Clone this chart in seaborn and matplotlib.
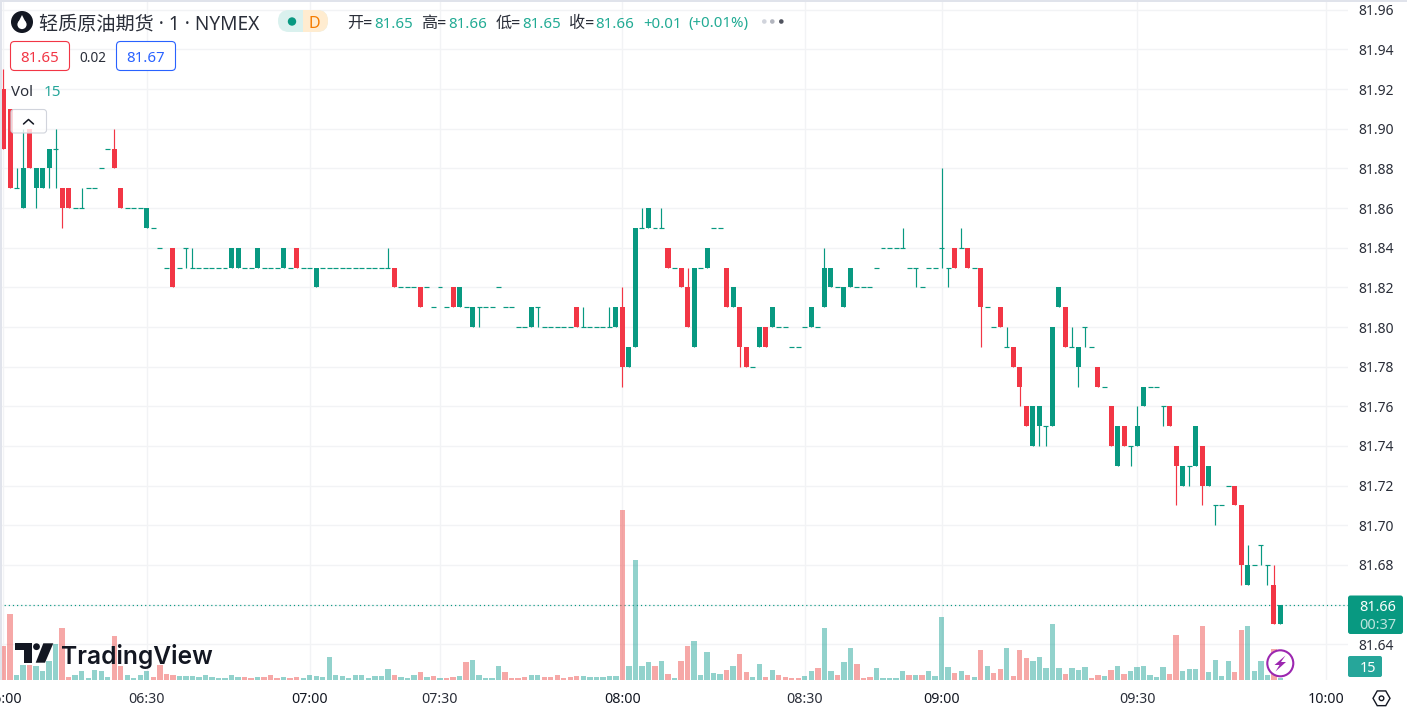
import numpy as np
import pandas as pd
import matplotlib.pyplot as plt
import seaborn as sns
from matplotlib.patches import Circle, FancyBboxPatch, Polygon, Rectangle, RegularPolygon

# Datos: precios en centavos por encima de 81.00, una fila cada 10 velas
opens = [92, 91, 87, 86, 90, 87, 87, 88, 89, 87,
         87, 86, 86, 87, 87, 88, 89, 89, 87, 86,
         86, 86, 85, 85, 84, 83, 84, 83, 84, 83,
         83, 83, 83, 83, 83, 83, 83, 83, 83, 83,
         83, 83, 83, 83, 83, 84, 83, 83, 82, 83,
         83, 83, 83, 83, 83, 83, 83, 83, 83, 83,
         83, 82, 82, 82, 82, 82, 81, 82, 81, 82,
         81, 81, 80, 81, 81, 81, 82, 81, 81, 80,
         80, 80, 81, 80, 80, 80, 80, 80, 81, 80,
         80, 80, 80, 80, 80, 81, 78, 79, 85, 85,
         85, 85, 84, 83, 83, 82, 79, 83, 83, 85,
         85, 83, 81, 81, 79, 78, 79, 80, 80, 80,
         80, 79, 79, 80, 80, 80, 81, 82, 82, 81,
         82, 82, 82, 82, 83, 84, 84, 84, 84, 83,
         83, 82, 83, 83, 84, 83, 84, 84, 84, 83,
         83, 81, 80, 81, 79, 79, 78, 76, 74, 75,
         75, 75, 81, 81, 79, 78, 80, 79, 78, 77,
         76, 73, 75, 74, 74, 76, 77, 77, 76, 76,
         74, 72, 73, 73, 74, 72, 71, 71, 72, 72,
         71, 67, 68, 69, 68, 67, 65]
highs = [93, 91, 88, 90, 90, 88, 88, 89, 90, 87,
         87, 86, 87, 87, 87, 88, 89, 90, 87, 86,
         86, 86, 86, 85, 84, 83, 84, 83, 84, 84,
         83, 83, 83, 83, 83, 84, 84, 83, 83, 84,
         83, 83, 83, 84, 83, 84, 83, 83, 83, 83,
         83, 83, 83, 83, 83, 83, 83, 83, 83, 84,
         83, 82, 82, 82, 82, 82, 81, 82, 81, 82,
         82, 81, 81, 81, 81, 81, 82, 81, 81, 80,
         80, 81, 81, 80, 80, 80, 80, 80, 81, 81,
         80, 80, 80, 81, 81, 82, 79, 85, 86, 86,
         85, 86, 84, 83, 83, 83, 83, 83, 84, 85,
         85, 83, 82, 81, 79, 78, 80, 80, 81, 80,
         80, 79, 79, 80, 81, 80, 84, 83, 82, 82,
         83, 82, 82, 82, 83, 84, 84, 84, 85, 83,
         83, 82, 83, 83, 88, 83, 84, 85, 84, 83,
         83, 81, 80, 81, 80, 79, 78, 76, 76, 76,
         75, 80, 82, 81, 80, 79, 80, 79, 78, 77,
         76, 75, 75, 74, 76, 77, 77, 77, 76, 76,
         74, 73, 73, 75, 74, 73, 71, 71, 72, 72,
         71, 69, 68, 69, 68, 68, 66]
lows = [89, 87, 87, 86, 88, 86, 87, 87, 87, 85,
        86, 86, 86, 87, 87, 88, 89, 88, 86, 86,
        86, 86, 85, 85, 84, 83, 82, 83, 83, 83,
        83, 83, 83, 83, 83, 83, 83, 83, 83, 83,
        83, 83, 83, 83, 83, 83, 83, 83, 82, 83,
        83, 83, 83, 83, 83, 83, 83, 83, 83, 83,
        82, 82, 82, 82, 81, 82, 81, 82, 81, 81,
        81, 81, 80, 80, 81, 81, 82, 81, 81, 80,
        80, 80, 80, 80, 80, 80, 80, 80, 80, 80,
        80, 80, 80, 80, 80, 77, 78, 79, 85, 85,
        85, 85, 83, 83, 82, 80, 79, 83, 83, 85,
        85, 81, 81, 78, 78, 78, 79, 79, 80, 80,
        80, 79, 79, 80, 80, 80, 81, 82, 82, 81,
        82, 82, 82, 82, 83, 84, 84, 84, 84, 83,
        82, 82, 83, 83, 83, 82, 83, 84, 83, 83,
        79, 81, 80, 80, 79, 78, 76, 75, 74, 74,
        74, 75, 81, 79, 79, 77, 79, 79, 77, 77,
        74, 73, 74, 73, 74, 76, 77, 77, 75, 75,
        71, 72, 72, 73, 71, 72, 70, 71, 72, 71,
        67, 67, 68, 68, 67, 65, 65]
closes = [89, 87, 87, 88, 88, 88, 88, 89, 89, 86,
          86, 86, 86, 87, 87, 88, 89, 88, 86, 86,
          86, 86, 86, 85, 84, 83, 82, 83, 84, 83,
          83, 83, 83, 83, 83, 84, 84, 83, 83, 84,
          83, 83, 83, 84, 83, 83, 83, 83, 83, 83,
          83, 83, 83, 83, 83, 83, 83, 83, 83, 83,
          82, 82, 82, 82, 81, 82, 81, 82, 81, 81,
          82, 81, 81, 81, 81, 81, 82, 81, 81, 80,
          80, 81, 81, 80, 80, 80, 80, 80, 80, 80,
          80, 80, 80, 80, 81, 78, 79, 85, 85, 86,
          85, 85, 83, 83, 82, 80, 83, 83, 84, 85,
          85, 81, 82, 79, 78, 78, 80, 79, 81, 80,
          80, 79, 79, 80, 81, 80, 83, 83, 82, 82,
          83, 82, 82, 82, 83, 84, 84, 84, 84, 83,
          83, 82, 83, 83, 84, 83, 83, 84, 83, 83,
          81, 81, 80, 80, 79, 78, 77, 75, 76, 76,
          75, 80, 82, 79, 79, 79, 80, 79, 77, 77,
          74, 75, 74, 74, 75, 77, 77, 77, 76, 75,
          73, 73, 73, 75, 72, 73, 71, 71, 72, 71,
          68, 68, 68, 69, 68, 65, 66]
volumes = [204, 396, 30, 90, 90, 84, 54, 114, 216, 312,
           18, 30, 54, 12, 60, 54, 18, 264, 84, 30,
           12, 30, 54, 18, 90, 36, 30, 24, 24, 24,
           18, 30, 18, 12, 12, 30, 18, 18, 12, 18,
           18, 30, 12, 18, 12, 18, 12, 30, 24, 18,
           138, 30, 24, 12, 30, 30, 12, 24, 24, 66,
           30, 18, 12, 30, 48, 18, 24, 12, 12, 18,
           24, 108, 120, 30, 12, 12, 84, 48, 12, 12,
           18, 30, 30, 18, 18, 30, 12, 18, 24, 24,
           18, 18, 18, 24, 24, 1020, 84, 720, 84, 108,
           84, 114, 36, 12, 114, 204, 234, 30, 168, 42,
           36, 60, 84, 156, 48, 18, 96, 18, 60, 30,
           18, 12, 12, 24, 54, 72, 312, 54, 30, 108,
           192, 96, 12, 18, 72, 12, 12, 12, 54, 30,
           30, 30, 54, 24, 378, 78, 42, 54, 30, 18,
           180, 84, 42, 66, 192, 24, 180, 132, 114, 138,
           72, 336, 72, 36, 72, 60, 78, 12, 30, 24,
           60, 84, 36, 54, 78, 84, 30, 18, 78, 36,
           270, 54, 66, 66, 324, 48, 120, 24, 114, 48,
           300, 324, 54, 114, 30, 186, 15]
# Velas cuyo volumen sale en rojo
vol_rojas = [0, 1, 4, 9, 10, 17, 18, 23, 24, 25, 26, 37, 38, 40, 41, 42, 44, 45,
             60, 64, 66, 68, 69, 71, 77, 78, 79, 80, 83, 84, 85, 86, 87, 88, 95,
             100, 102, 104, 105, 111, 113, 114, 117, 119, 120, 121, 122, 125, 128,
             131, 132, 133, 139, 141, 146, 148, 150, 152, 153, 155, 156, 157, 163,
             167, 168, 170, 172, 179, 180, 184, 189, 190, 195]

time_labels = ['06:00', '06:30', '07:00', '07:30', '08:00', '08:30', '09:00', '09:30', '10:00']
time_bars = [0, 22, 47, 67, 95, 123, 144, 174, 203]
hour_labels = ['06:00', '07:00', '08:00', '09:00', '10:00']
price_ticks = [81.64, 81.68, 81.70, 81.72, 81.74, 81.76, 81.78, 81.80,
               81.82, 81.84, 81.86, 81.88, 81.90, 81.92, 81.94, 81.96]

UP = '#089981'
DOWN = '#F23645'
TEXT = '#131722'
GRID = '#F2F3F5'
W, H = 1407, 713

sns.set_theme(style='white')
plt.rcParams['font.family'] = ['Noto Sans', 'Noto Sans CJK SC', 'DejaVu Sans']

df = pd.DataFrame({'bar': np.arange(len(closes)), 'open': opens, 'high': highs,
                   'low': lows, 'close': closes, 'vol': volumes})
for col in ['open', 'high', 'low', 'close']:
    df[col] = 81 + df[col] / 100
df['dir'] = np.where(df['bar'].isin(vol_rojas), 'down', 'up')

fig = plt.figure(figsize=(W / 100, H / 100), dpi=100, facecolor='white')
rect = [0, 33 / H, 1347.5 / W, 680 / H]
xlim = (-0.537, 206.3)

# Panel de precios, con la rejilla debajo del volumen
ax = fig.add_axes(rect, zorder=1)
ax.set_xlim(xlim)
ax.set_ylim(81.622, 81.9649)
ax.set_axisbelow(True)
ax.hlines(price_ticks + [81.66], *xlim, color=GRID, lw=1.0, zorder=0.5)
ax.vlines(time_bars, 81.622, 81.9649, color=GRID, lw=1.0, zorder=0.5)

colors = np.where(df['close'] >= df['open'], UP, DOWN)
ax.vlines(df['bar'], df['low'], df['high'], colors=colors, lw=0.85, zorder=3)
body = (df['close'] - df['open']).abs()
solid = body > 0
ax.bar(df.loc[solid, 'bar'], body[solid], bottom=df.loc[solid, ['open', 'close']].min(axis=1),
       width=0.77, color=colors[solid], linewidth=0, zorder=4)
ax.hlines(df.loc[~solid, 'close'], df.loc[~solid, 'bar'] - 0.38, df.loc[~solid, 'bar'] + 0.38,
          colors=colors[~solid], lw=0.85, zorder=4)
ax.axhline(closes[-1] / 100 + 81, color=UP, lw=0.85, ls=(0, (1, 2.5)), zorder=2)

# Ejes
ax.yaxis.tick_right()
ax.set_yticks(price_ticks, [f'{p:.2f}' for p in price_ticks])
ax.tick_params(axis='y', length=0, pad=8, labelsize=10, labelcolor='#2A2E39')
ax.set_xticks(time_bars, time_labels)
ax.tick_params(axis='x', length=0, pad=8.5, labelsize=10.2, labelcolor='#2A2E39')
for lab in ax.get_xticklabels():
    if lab.get_text() in hour_labels:
        lab.set_fontweight('semibold')
        lab.set_color(TEXT)
for spine in ax.spines.values():
    spine.set_visible(False)

# Panel de volumen
ax_vol = fig.add_axes(rect, zorder=2)
sns.barplot(data=df, x='bar', y='vol', hue='dir', palette={'up': '#26a69a', 'down': '#ef5350'},
            dodge=False, native_scale=True, width=0.82, gap=0, saturation=1, alpha=0.5,
            linewidth=0, legend=False, ax=ax_vol)
ax_vol.set_xlim(xlim)
ax_vol.set_ylim(0, 680 * 6)
ax_vol.axis('off')

# Capa superior en coordenadas de pixel para la cabecera y los iconos
top = fig.add_axes([0, 0, 1, 1], zorder=3)
top.set_xlim(0, W)
top.set_ylim(H, 0)
top.axis('off')
top.patch.set_visible(False)


def texto(x, y, s, color=TEXT, size=11, ha='left', **kw):
    top.text(x, y, s, color=color, fontsize=size, ha=ha, va='center_baseline', **kw)


def caja(x0, y0, x1, y1, r, **kw):
    top.add_patch(FancyBboxPatch((x0 + r, y0 + r), x1 - x0 - 2 * r, y1 - y0 - 2 * r,
                                 boxstyle=f'round,pad={r},rounding_size={r}', **kw))


# Marco claro arriba y a la izquierda
top.add_patch(Rectangle((0, 0), W, 1.5, color='#E0E3EB', lw=0))
top.add_patch(Rectangle((0, 0), 1.5, 680, color='#E0E3EB', lw=0))

# Titulo
top.add_patch(Circle((22, 22), 11, color='#131722', lw=0))
top.add_patch(Circle((22, 24.5), 4.6, color='white', lw=0))
top.add_patch(Polygon([(22, 15), (18.2, 22.5), (25.8, 22.5)], color='white', lw=0))
texto(39, 22, '轻质原油期货 · 1 · NYMEX', size=13.75, color='#2A2E39')

# Insignia de estado
caja(278, 10, 328, 32, 11, fc='#DAF1EE', ec='none')
caja(304, 10, 328, 32, 11, fc='#FFECD0', ec='none')
top.add_patch(Rectangle((303, 10), 10, 22, color='#FFECD0', lw=0))
top.add_patch(Circle((292, 21.5), 4.2, color=UP, lw=0))
texto(314, 21.5, 'D', color='#F57C00', size=11.5, ha='center', fontweight='bold')

# Leyenda OHLC
legend_green = '#22AB94'
for x, s in [(347.5, '开='), (421.5, '高='), (495.5, '低='), (568.5, '收=')]:
    texto(x, 22, s, color='#2A2E39', size=11.6)
for x, s in [(374, '81.65'), (448, '81.66'), (522, '81.65'), (595, '81.66'),
             (643, '+0.01'), (688, '(+0.01%)')]:
    texto(x, 22, s, color=legend_green, size=10.8)
for x, c in [(764.3, '#D1D4DC'), (772.3, '#B2B5BE'), (781.3, '#50535E')]:
    top.add_patch(Circle((x, 21.5), 2.3, color=c, lw=0))

# Precios bid/ask
caja(10.5, 41.5, 69.5, 70.5, 4, fc='white', ec=DOWN, lw=0.8)
texto(40, 56.5, '81.65', color=DOWN, size=10.8, ha='center')
texto(93, 56, '0.02', color='#2A2E39', size=9.8, ha='center')
caja(116.5, 41.5, 175.5, 70.5, 4, fc='white', ec='#2962FF', lw=0.8)
texto(146, 56.5, '81.67', color='#2962FF', size=10.8, ha='center')

# Vol y boton de plegar
texto(11, 91, 'Vol', color='#2A2E39', size=10.8)
texto(43.5, 91, '15', color='#26A69A', size=11)
caja(11, 109.5, 46.5, 133, 3, fc=(1, 1, 1, 0.8), ec='#D1D4DC', lw=0.8)
top.plot([23.5, 28.5, 33.5], [124, 119.5, 124], color=TEXT, lw=1.1)

# Logo de TradingView
top.add_patch(Polygon([(15, 643.3), (31.7, 643.3), (31.7, 662.7), (24, 662.7), (24, 650), (15, 650)],
                      color=TEXT, lw=0))
top.add_patch(Circle((36.5, 646.7), 3.4, color=TEXT, lw=0))
top.add_patch(Polygon([(43.3, 643.3), (53.3, 643.3), (45, 662.7), (35.7, 662.7)], color=TEXT, lw=0))
top.text(61.5, 654, 'TradingView', color=TEXT, fontsize=17.7, fontweight='semibold',
         family=['Inter', 'DejaVu Sans'], ha='left', va='center_baseline')

# Etiqueta del ultimo precio
caja(1348, 595.5, 1403, 634, 2.5, fc=UP, ec='none')
texto(1378, 605.5, '81.66', color='white', size=10.4, ha='center', fontweight='semibold')
texto(1378, 623.5, '00:37', color='#BFE5DF', size=10.4, ha='center')
caja(1348, 656, 1382, 677, 2, fc='#26A69A', ec='none')
texto(1368, 666.5, '15', color='white', size=10.4, ha='center')

# Icono del rayo
top.add_patch(Circle((1280.3, 663.3), 13, fc='white', ec='#9C27B0', lw=1.5))
top.add_patch(Polygon([(1285.5, 655.5), (1274.5, 665), (1279.5, 665), (1275.5, 671.5),
                       (1286, 662), (1281, 662)], color='#9C27B0', lw=0))

# Icono de ajustes
top.add_patch(RegularPolygon((1381.5, 698.3), 6, radius=8.5, orientation=np.pi / 2,
                             fc='white', ec=TEXT, lw=1.0))
top.add_patch(Circle((1381.5, 698.3), 2.3, fc='white', ec=TEXT, lw=1.0))

fig.savefig('out.png', dpi=100)
